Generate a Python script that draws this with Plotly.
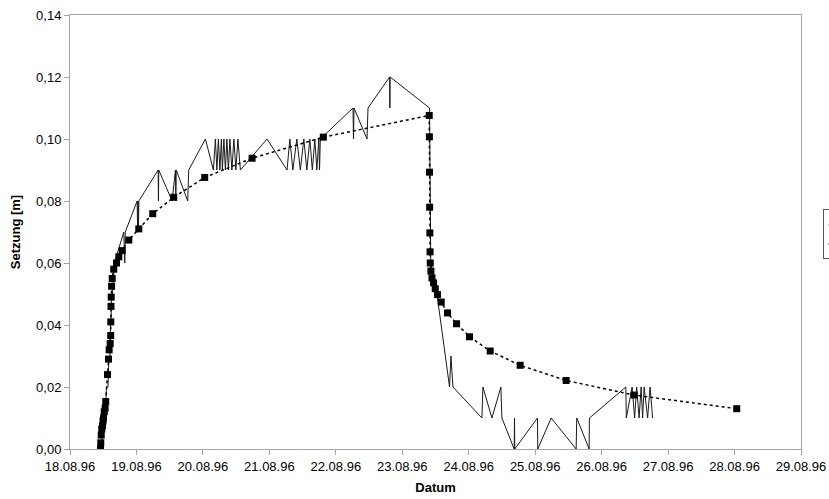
import pandas as pd
import plotly.graph_objects as go

# Elapsed time in days since 18.08.96 00:00 and settlement in metres
messung_tage = [
    0.4586, 0.4737, 0.4962, 0.5263, 0.5489, 0.5714, 0.5865, 0.6015, 0.6090,
    0.6165, 0.6241, 0.6391, 0.6692, 0.8090, 0.8241, 0.8316, 1.0105, 1.0180,
    1.0241, 1.0301, 1.0361, 1.3263, 1.3308, 1.3353, 1.5368, 1.5865, 1.5925,
    1.5985, 1.7714, 1.7865, 2.0376, 2.1579, 2.1880, 2.2105, 2.2331, 2.2556,
    2.2782, 2.2932, 2.3158, 2.3383, 2.3609, 2.3835, 2.4060, 2.4361, 2.4662,
    2.4962, 2.5263, 2.5639, 2.9654, 3.2662, 3.3083, 3.3534, 3.4135, 3.4662,
    3.5188, 3.5639, 3.6090, 3.6466, 3.6842, 3.7143, 3.7444, 3.7549, 3.7669,
    4.2586, 4.2662, 4.2737, 4.4692, 4.4842, 4.8090, 4.8135, 4.8180, 5.4105,
    5.4135, 5.4165, 5.4195, 5.4226, 5.4286, 5.5218, 5.7113, 5.7323, 5.7624,
    6.1985, 6.2135, 6.3489, 6.4842, 6.4992, 6.6842, 6.6887, 6.6932, 7.0346,
    7.0391, 7.2406, 7.6165, 7.6256, 7.8120, 7.8165, 8.3639, 8.3714, 8.4586,
    8.4962, 8.5263, 8.5639, 8.5940, 8.6165, 8.6391, 8.6917, 8.7293, 8.7669,
]
messung_setzung = [
    0.00, 0.00, 0.01, 0.01, 0.02, 0.02, 0.03, 0.03, 0.04,
    0.04, 0.05, 0.05, 0.06, 0.07, 0.06, 0.07, 0.08, 0.07,
    0.08, 0.07, 0.08, 0.09, 0.08, 0.09, 0.08, 0.09, 0.08,
    0.09, 0.08, 0.09, 0.10, 0.09, 0.10, 0.09, 0.10, 0.09,
    0.10, 0.09, 0.10, 0.09, 0.10, 0.09, 0.10, 0.09, 0.10,
    0.09, 0.10, 0.09, 0.10, 0.09, 0.10, 0.09, 0.10, 0.09,
    0.10, 0.09, 0.10, 0.09, 0.10, 0.09, 0.10, 0.09, 0.10,
    0.11, 0.10, 0.11, 0.10, 0.11, 0.12, 0.11, 0.12, 0.11,
    0.10, 0.09, 0.08, 0.07, 0.06, 0.05, 0.02, 0.03, 0.02,
    0.01, 0.02, 0.01, 0.02, 0.01, 0.00, 0.01, 0.00, 0.01,
    0.00, 0.01, 0.00, 0.01, 0.00, 0.01, 0.02, 0.01, 0.02,
    0.01, 0.02, 0.01, 0.02, 0.01, 0.02, 0.01, 0.02, 0.01,
]

berechnung_tage = [
    0.459, 0.463, 0.470, 0.478, 0.489, 0.497, 0.504, 0.515, 0.529, 0.538,
    0.564, 0.579, 0.589, 0.605, 0.612, 0.614, 0.617, 0.620, 0.626, 0.635,
    0.658, 0.700, 0.735, 0.785, 0.885, 1.035, 1.245, 1.561, 2.027, 2.740,
    3.812, 5.406, 5.408, 5.410, 5.412, 5.415, 5.418, 5.421, 5.431, 5.447,
    5.471, 5.496, 5.531, 5.586, 5.681, 5.817, 6.012, 6.323, 6.774, 7.466,
    8.489, 10.033,
]
berechnung_setzung = [
    0.0000, 0.0020, 0.0045, 0.0065, 0.0075, 0.0090, 0.0100, 0.0120, 0.0132, 0.0153,
    0.0240, 0.0290, 0.0320, 0.0340, 0.0366, 0.0410, 0.0460, 0.0490, 0.0525, 0.0550,
    0.0580, 0.0600, 0.0620, 0.0640, 0.0674, 0.0710, 0.0759, 0.0812, 0.0876, 0.0938,
    0.1006, 0.1076, 0.1007, 0.0893, 0.0780, 0.0697, 0.0636, 0.0600, 0.0574, 0.0552,
    0.0536, 0.0517, 0.0498, 0.0474, 0.0439, 0.0404, 0.0362, 0.0316, 0.0270, 0.0221,
    0.0174, 0.0130,
]

start = pd.Timestamp("1996-08-18")
messung_datum = start + pd.to_timedelta(messung_tage, unit="D")
berechnung_datum = start + pd.to_timedelta(berechnung_tage, unit="D")

axis_grey = "#a6a6a6"
font_family = "Liberation Sans, Arial, sans-serif"

fig = go.Figure()
fig.add_trace(go.Scatter(
    x=messung_datum, y=messung_setzung, name="Messung", mode="lines",
    line=dict(color="#1a1a1a", width=1),
))
fig.add_trace(go.Scatter(
    x=berechnung_datum, y=berechnung_setzung, name="Berechnung",
    mode="lines+markers",
    line=dict(color="black", width=1.5, dash="dot"),
    marker=dict(symbol="square", size=7, color="black"),
))

fig.update_layout(
    width=829, height=499,
    margin=dict(l=69.5, r=28, t=15, b=49.5, autoexpand=False),
    paper_bgcolor="white", plot_bgcolor="white",
    separators=",.",
    font=dict(family=font_family, size=13, color="black"),
    showlegend=True,
    legend=dict(
        x=1.0295, y=0.552, xanchor="left", yanchor="top",
        bordercolor="#555555", borderwidth=1, bgcolor="white",
        font=dict(size=9), tracegroupgap=0,
    ),
    xaxis=dict(
        type="date",
        range=["1996-08-18", "1996-08-29"],
        dtick=86400000, tick0="1996-08-18",
        tickformat="%d.%m.%y",
        showgrid=False, zeroline=False,
        showline=True, linecolor=axis_grey, linewidth=1, mirror=True,
        ticks="outside", ticklen=5, tickcolor=axis_grey,
        tickfont=dict(size=13),
        title=dict(text="<b>Datum</b>", font=dict(size=13), standoff=10),
    ),
    yaxis=dict(
        range=[0, 0.14], dtick=0.02, tick0=0, tickformat=".2f",
        showgrid=False, zeroline=False,
        showline=True, linecolor=axis_grey, linewidth=1, mirror=True,
        ticks="outside", ticklen=5, tickcolor=axis_grey,
        tickfont=dict(size=13),
        title=dict(text="<b>Setzung [m]</b>", font=dict(size=13), standoff=12),
    ),
)

fig.write_html("out.html")
